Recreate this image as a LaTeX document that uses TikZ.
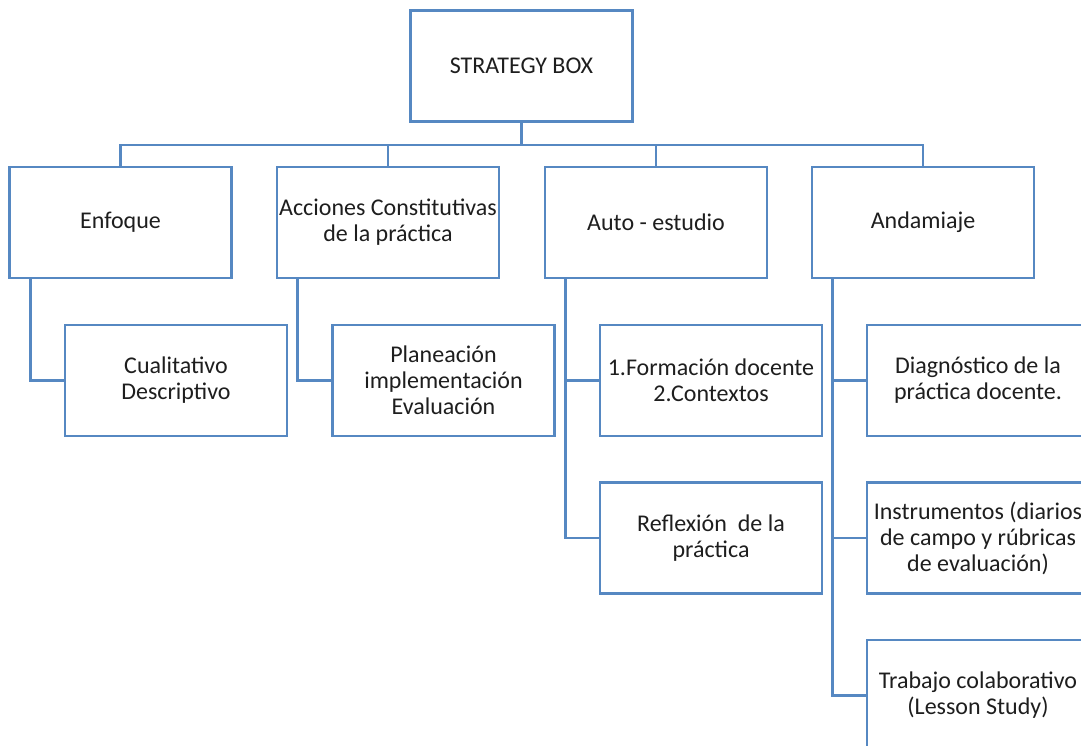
\documentclass[tikz,border=0pt]{standalone}
\usepackage{fontspec}
\setmainfont{Carlito}
\definecolor{boxline}{RGB}{86,136,194}
\definecolor{boxtext}{RGB}{30,30,30}
\begin{document}
\begin{tikzpicture}[x=1pt,y=-1pt,
  box/.style={draw=boxline, line width=2.6pt, fill=white, rectangle,
    minimum width=222pt, minimum height=111pt, inner sep=0pt,
    align=center, text=boxtext,
    font=\fontsize{24}{26}\selectfont},
  link/.style={draw=boxline, line width=2.6pt}]
\useasboundingbox (0,0) rectangle (1081,746);
\clip (0,0) rectangle (1081,746);

% top level
\node[box] (root) at (521.5,66) {STRATEGY BOX};

% first level
\node[box] (enf) at (120.5,222.5) {Enfoque};
\node[box] (acc) at (388,222.5) {Acciones Constitutivas\\de la práctica};
\node[box] (auto) at (656,222.5) {Auto - estudio};
\node[box] (anda) at (923,222.5) {Andamiaje};

% second level
\node[box] (cual) at (176,380.5) {Cualitativo\\Descriptivo};
\node[box] (plan) at (443.5,380.5) {Planeación\\implementación\\Evaluación};
\node[box] (form) at (711,380.5) {1.Formación docente\\2.Contextos};
\node[box] (refl) at (711,538) {Reflexión\ \ de la\\práctica};
\node[box] (diag) at (978,380.5) {Diagnóstico de la\\práctica docente.};
\node[box] (inst) at (978,538) {Instrumentos (diarios\\de campo y rúbricas\\de evaluación)};
\node[box] (trab) at (978,695.5) {Trabajo colaborativo\\(Lesson Study)};

% branch bar under the root
\coordinate (bar) at (521.5,145);
\draw[link] (root.south) -- (bar);
\draw[link] (enf.north) |- (bar) -| (anda.north);
\draw[link] (acc.north) |- (bar);
\draw[link] (auto.north) |- (bar);

% second level connectors
\draw[link] ([xshift=22pt]enf.south west) |- (cual.west);
\draw[link] ([xshift=22pt]acc.south west) |- (plan.west);
\draw[link] ([xshift=22pt]auto.south west) |- (form.west);
\draw[link] ([xshift=22pt]auto.south west) |- (refl.west);
\draw[link] ([xshift=22pt]anda.south west) |- (diag.west);
\draw[link] ([xshift=22pt]anda.south west) |- (inst.west);
\draw[link] ([xshift=22pt]anda.south west) |- (trab.west);
\end{tikzpicture}
\end{document}
